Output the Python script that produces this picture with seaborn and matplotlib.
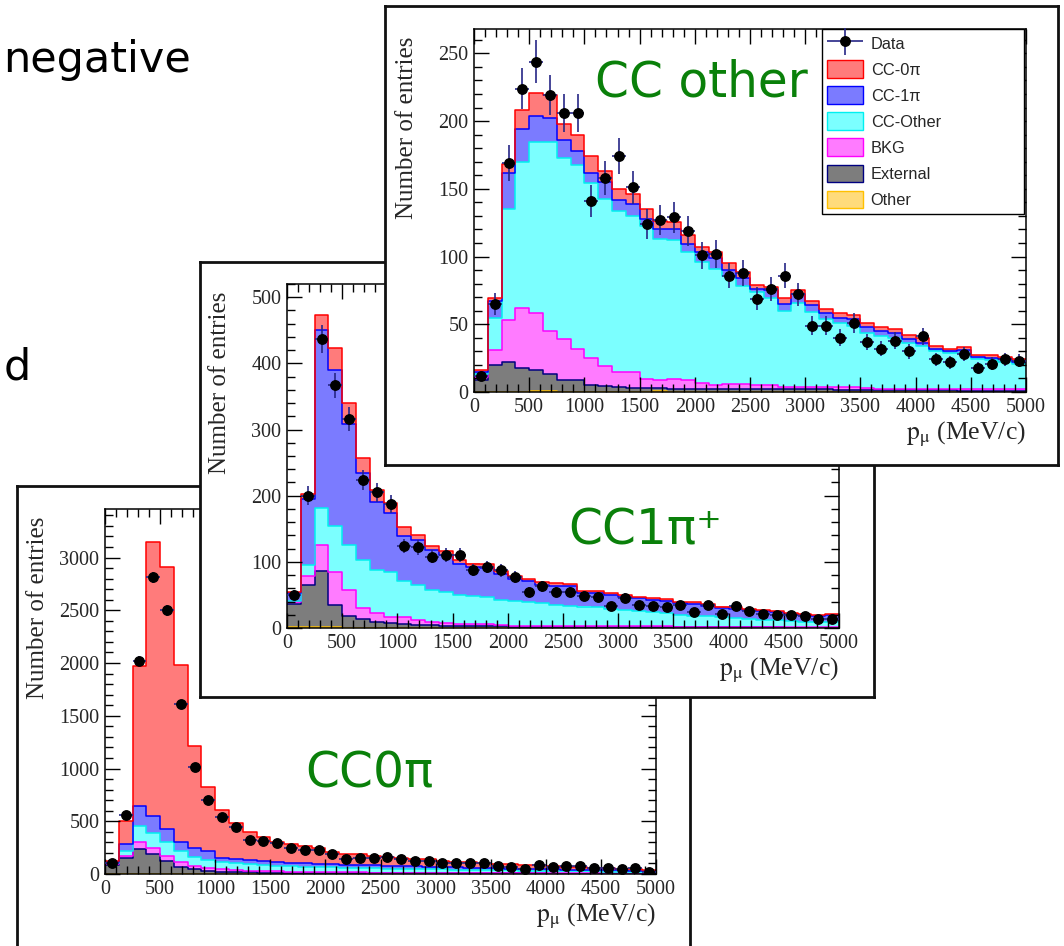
import numpy as np
import pandas as pd
import matplotlib
matplotlib.use("Agg")
import matplotlib.pyplot as plt
import seaborn as sns
from matplotlib.ticker import MultipleLocator
from matplotlib.patches import Patch
from matplotlib.container import ErrorbarContainer
from matplotlib.legend_handler import HandlerErrorbar

# ---------------------------------------------------------------- binning
EDGES = np.arange(0, 5001, 125)
CENTERS = 0.5 * (EDGES[:-1] + EDGES[1:])

COMPONENTS = ["CC-0π", "CC-1π", "CC-Other", "BKG", "External", "Other"]

# ---------------------------------------------------------------- CC0pi selection
cc0pi_data = [107, 560, 2020, 2814, 2500, 1609, 1018, 700, 544, 445, 322, 310, 291, 248, 231, 230, 185, 142, 155, 149,
              158, 139, 126, 123, 101, 107, 107, 101, 79, 70, 51, 85, 63, 76, 76, 57, 54, 47, 60, 22]
cc0pi_cc0pi = [10, 221, 1328, 2593, 2488, 1680, 967, 607, 450, 338, 268, 225, 190, 174, 164, 148, 116, 104, 102, 89,
               85, 79, 69, 69, 56, 53, 50, 46, 40, 40, 36, 38, 32, 28, 26, 22, 18, 13, 12, 8]
cc0pi_cc1pi = [10, 64, 190, 167, 124, 85, 83, 85, 38, 41, 41, 38, 41, 31, 31, 32, 29, 28, 27, 27,
               27, 26, 25, 24, 23, 22, 21, 20, 19, 18, 17, 17, 16, 15, 15, 14, 14, 13, 12, 11]
cc0pi_ccother = [10, 50, 148, 141, 130, 100, 80, 77, 73, 63, 60, 57, 51, 54, 50, 45, 46, 44, 43, 41,
                 39, 38, 37, 35, 34, 32, 31, 29, 28, 26, 25, 23, 22, 21, 19, 19, 17, 16, 16, 15]
cc0pi_bkg = [10, 21, 73, 60, 50, 47, 36, 24, 22, 19, 16, 14, 12, 10, 9, 8, 7, 7, 6, 6,
             5, 4, 4, 4, 3, 4, 3, 3, 3, 3, 2, 2, 2, 2, 2, 1, 2, 2, 1, 1]
cc0pi_external = [81, 146, 230, 181, 116, 64, 40, 28, 22, 19, 16, 14, 13, 12, 11, 10, 10, 9, 9, 8,
                  8, 8, 7, 7, 7, 6, 6, 6, 5, 5, 5, 5, 4, 4, 4, 4, 3, 3, 3, 3]
cc0pi_other = [4, 4, 4, 4, 4, 4, 4, 4, 0, 0, 0, 0, 0, 0, 0, 0, 0, 0, 0, 0,
               0, 0, 0, 0, 0, 0, 0, 0, 0, 0, 0, 0, 0, 0, 0, 0, 0, 0, 0, 0]

# ---------------------------------------------------------------- CC1pi+ selection
cc1pi_data = [50, 200, 437, 367, 316, 224, 205, 188, 124, 122, 108, 110, 110, 88, 92, 87, 77, 54, 63, 54,
              55, 49, 47, 34, 46, 35, 33, 32, 35, 24, 35, 21, 33, 26, 21, 19, 20, 18, 14, 14]
cc1pi_cc0pi = [2, 7, 22.5, 33, 31.5, 21.5, 18.5, 14, 12.5, 7.5, 6, 5, 6, 5, 5, 5, 4, 3.5, 3.5, 4,
               4, 3, 3.5, 2.5, 2.5, 2.5, 2.5, 2.5, 2.5, 2.5, 2.5, 2.5, 2, 2, 2.5, 2.5, 1.5, 1.5, 1.5, 1.5]
cc1pi_cc1pi = [12, 99.5, 269.5, 236.5, 182.5, 132, 102.5, 90.5, 69, 68, 60.5, 57, 47, 43.5, 44, 38, 33.5, 31.5, 27.5, 29,
               29, 21, 21, 21.5, 20, 19, 19, 18.5, 17.5, 18, 16.5, 14, 14, 13, 12.5, 12, 11, 10.5, 10, 11]
cc1pi_ccother = [1, 16.5, 55.5, 69, 68, 73, 65.5, 68, 54.5, 53, 49.5, 46.5, 44, 43, 41.5, 38, 37.5, 36, 35, 32.5,
                 31.5, 30, 29, 26, 25, 23.5, 21, 20, 18, 16.5, 15.5, 14, 13, 12, 11, 10, 9, 8, 7.5, 7.5]
cc1pi_bkg = [4, 13.5, 39.5, 49.5, 39.5, 16.5, 14, 8.5, 10, 7.5, 4.5, 4, 3.5, 3, 3, 2.5, 1, 1, 1, 1,
             1, 1, 1, 1, 1, 1, 1, 1, 1, 1, 1, 1, 1, 0.5, 0.5, 0.5, 0.5, 0.5, 0.5, 0.5]
cc1pi_external = [34.5, 64, 85, 33.5, 18.5, 13.5, 8.5, 7.5, 6, 5, 4, 3.5, 3, 3, 2.5, 2.5, 2, 2, 2, 1.5,
                  1.5, 1.5, 1.5, 1.5, 1.5, 1.5, 1.5, 1.5, 1, 1, 1, 1, 1, 1, 1, 1, 0.5, 0.5, 0.5, 0.5]
cc1pi_other = [1.5, 1.5, 1.5, 1.5, 0, 0, 0, 0, 0, 0, 0, 0, 0, 0, 0, 0, 0, 0, 0, 0,
               0, 0, 0, 0, 0, 0, 0, 0, 0, 0, 0, 0, 0, 0, 0, 0, 0, 0, 0, 0]

# ---------------------------------------------------------------- CC-other selection
ccother_data = [12, 65, 169, 224, 244, 219, 206, 206, 141, 158, 174, 151, 124, 127, 129, 119, 101, 102, 86, 88,
                69, 76, 86, 72, 49, 49, 40, 51, 37, 32, 38, 30, 41, 24, 22, 28, 18, 21, 24, 23]
ccother_cc0pi = [1.5, 2.5, 7, 13.5, 16.5, 17, 12, 11.5, 12.5, 8, 8, 7.5, 7.5, 6, 5.5, 6.5, 4, 4.5, 5.5, 4,
                 3, 2.5, 4.5, 3.5, 3.5, 3.5, 3.5, 3, 3, 3, 3, 3, 3, 2, 2, 2.5, 1.5, 2, 1.5, 1.5]
ccother_cc1pi = [2, 12, 26.5, 25, 19.5, 17.5, 13.5, 10.5, 7.5, 12.5, 8.5, 9, 5, 7, 7.5, 6.5, 7, 8, 4.5, 6.5,
                 2.5, 5.5, 5, 6.5, 5, 4, 3.5, 5, 4.5, 4, 3.5, 3, 2.5, 2, 1.5, 2, 2, 1.5, 1.5, 1.5]
ccother_ccother = [2, 24, 81.5, 107.5, 126.5, 139.5, 133.5, 135.5, 129.5, 123.5, 119, 115, 113, 104, 103, 94, 89.5, 85.5, 79.5, 72,
                   68, 64.5, 56, 61.5, 55, 50, 47, 45.5, 40.5, 38.5, 37.5, 33.5, 31.5, 27.5, 26, 27, 22, 21.5, 20.5, 19]
ccother_bkg = [2, 11, 31.5, 44, 42, 32, 30.5, 23.5, 19.5, 14.5, 11, 12, 6.5, 6, 7, 6.5, 4.5, 3.5, 4, 4,
               3.5, 3, 2, 2, 2, 2, 2.5, 2, 1.5, 1, 1, 1, 1, 1, 1, 1, 1, 1, 1, 1]
ccother_external = [9, 20, 22, 18, 15.2, 12.2, 8.5, 8.5, 5.5, 4.5, 3.5, 3, 3, 2.4, 2.5, 2.5, 2, 2, 2, 2,
                    2, 2, 2, 2, 2, 2, 1.5, 1.5, 1.5, 1.5, 1.5, 1.5, 1.5, 1.5, 1.5, 1, 1, 1, 1, 1]
ccother_other = [0, 0, 0, 0, 0.8, 0.8, 0, 0, 0, 0, 0, 0, 0, 0.6, 0, 0, 0, 0, 0, 0,
                 0, 0, 0, 0, 0, 0, 0, 0, 0, 0, 0, 0, 0, 0, 0, 0, 0, 0, 0, 0]

# ---------------------------------------------------------------- styling
FILL = {"CC-0π": "#ff7b7b", "CC-1π": "#7b7bff", "CC-Other": "#7bffff",
        "BKG": "#ff7bff", "External": "#7d7d7d", "Other": "#ffdb7b"}
EDGE = {"CC-0π": "#ff0000", "CC-1π": "#0000ff", "CC-Other": "#00f0f0",
        "BKG": "#ff00ff", "External": "#000080", "Other": "#ffc000"}
ERR_COLOR = "#262686"
GREEN = "#0a800a"

W, H = 1064, 946

sns.set_style("ticks")
plt.rcParams["font.family"] = ["Liberation Serif", "DejaVu Serif"]
plt.rcParams["mathtext.fontset"] = "stix"

fig = plt.figure(figsize=(W / 100, H / 100), dpi=100)
fig.patch.set_facecolor("white")


def px_rect(l, t, r, b):
    return [l / W, 1 - b / H, (r - l) / W, (b - t) / H]


def panel_frame(l, t, r, b, z):
    fr = fig.add_axes(px_rect(l, t, r, b), zorder=z)
    fr.set_xticks([])
    fr.set_yticks([])
    fr.set_facecolor("white")
    for s in fr.spines.values():
        s.set_linewidth(2.0)
        s.set_color("#111111")
    return fr


def draw_panel(rect, z, data, parts, ymax, ymaj, ymin, title, title_xy, hpx):
    ax = fig.add_axes(px_rect(*rect), zorder=z)
    ax.set_facecolor("white")
    df = pd.DataFrame({
        "p": np.tile(CENTERS, len(COMPONENTS)),
        "n": np.concatenate([np.asarray(v, float) for v in parts]),
        "comp": np.repeat(COMPONENTS, len(CENTERS)),
    })
    common = dict(data=df, x="p", weights="n", hue="comp", hue_order=COMPONENTS,
                  multiple="stack", binwidth=125, binrange=(0, 5000),
                  element="step", legend=False, ax=ax)
    sns.histplot(fill=True, alpha=1, linewidth=0, palette=FILL, **common)
    sns.histplot(fill=False, linewidth=1.1, palette=EDGE, **common)
    d = np.asarray(data, float)
    eb = ax.errorbar(CENTERS, d, yerr=np.sqrt(d), xerr=62.5, fmt="o", ms=6.8,
                     mfc="black", mec="black", ecolor=ERR_COLOR, elinewidth=1.2,
                     capsize=0, zorder=5)

    ax.set_xlim(0, 5000)
    ax.set_ylim(0, ymax)
    ax.xaxis.set_major_locator(MultipleLocator(500))
    ax.xaxis.set_minor_locator(MultipleLocator(100))
    ax.yaxis.set_major_locator(MultipleLocator(ymaj))
    ax.yaxis.set_minor_locator(MultipleLocator(ymin))
    ax.set_axisbelow(False)
    ax.tick_params(which="both", direction="in", top=True, right=True,
                   width=1.0, color="black", labelsize=14.5, pad=4)
    ax.tick_params(which="major", length=11)
    ax.tick_params(which="minor", length=5.5)
    for s in ax.spines.values():
        s.set_linewidth(1.1)
        s.set_color("black")

    ax.set_xlabel(r"$\mathrm{p}_{\mathrm{\mu}}$ (MeV/c)", fontsize=18.5, loc="right")
    ax.set_ylabel("Number of entries", fontsize=18, loc="top")
    ax.xaxis.set_label_coords(1.0, -28 / hpx)
    ax.yaxis.set_label_coords(-56 / 552, 1 - 8 / hpx)

    ax.text(title_xy[0], title_xy[1], title, transform=ax.transAxes,
            fontsize=35, color=GREEN, family="DejaVu Sans",
            ha="left", va="baseline", zorder=6)
    return ax, eb


# back panel: CC0pi
panel_frame(17, 486, 690, 960, 1)
draw_panel((105, 509, 656, 874), 2, cc0pi_data,
           [cc0pi_cc0pi, cc0pi_cc1pi, cc0pi_ccother, cc0pi_bkg, cc0pi_external, cc0pi_other],
           3460, 500, 100, "CC0π", (0.363, 0.236), 365)

# middle panel: CC1pi+
panel_frame(200, 262, 874, 697, 3)
draw_panel((287, 284, 839, 628), 4, cc1pi_data,
           [cc1pi_cc0pi, cc1pi_cc1pi, cc1pi_ccother, cc1pi_bkg, cc1pi_external, cc1pi_other],
           520, 100, 20, "CC1π⁺", (0.509, 0.244), 344)

# front panel: CC-other
panel_frame(385, 6, 1058, 465, 5)
ax3, eb3 = draw_panel((474, 29, 1026, 392), 6, ccother_data,
                      [ccother_cc0pi, ccother_cc1pi, ccother_ccother, ccother_bkg,
                       ccother_external, ccother_other],
                      268, 50, 10, "CC other", (0.219, 0.813), 363)

handles = [eb3] + [Patch(facecolor=FILL[c], edgecolor=EDGE[c], linewidth=1.0) for c in COMPONENTS]
labels = ["Data"] + COMPONENTS
leg = ax3.legend(handles, labels, loc="upper left",
                 bbox_to_anchor=((822 - 474) / 552, 0.0, (1024 - 822) / 552, 1.0),
                 mode="expand", borderaxespad=0, frameon=True, fancybox=False,
                 edgecolor="black", framealpha=1,
                 prop={"family": "Liberation Sans", "size": 11.8},
                 handlelength=2.2, handleheight=1.3, labelspacing=0.5,
                 handletextpad=0.45, borderpad=0.32,
                 handler_map={ErrorbarContainer: HandlerErrorbar(xerr_size=1.1, yerr_size=0.8)})
leg.get_frame().set_linewidth(1.0)
leg.set_zorder(10)

# slide text around the panels
fig.text(3 / W, 1 - 72 / H, "negative", fontsize=31, family="DejaVu Sans",
         ha="left", va="baseline", color="black", zorder=0)
fig.text(31 / W, 1 - 380 / H, "d", fontsize=31, family="DejaVu Sans",
         ha="right", va="baseline", color="black", zorder=0)

fig.savefig("out.png", dpi=100, facecolor="white")
